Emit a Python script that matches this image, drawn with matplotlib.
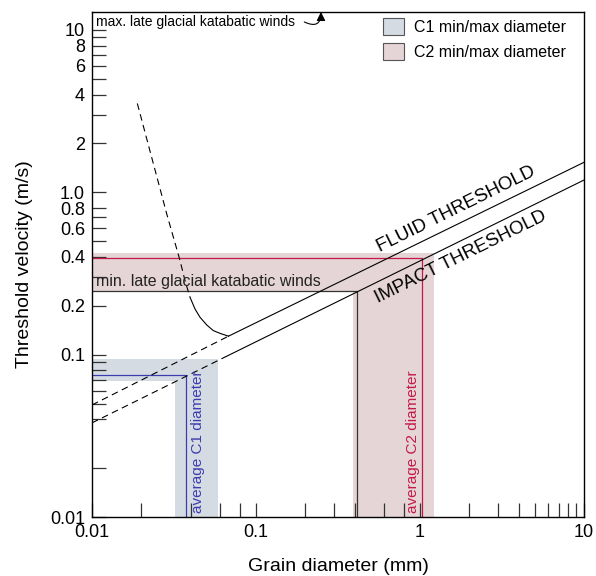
import matplotlib
matplotlib.use("Agg")
import matplotlib.pyplot as plt
from matplotlib.patches import Patch
from matplotlib.ticker import FixedLocator, FixedFormatter, NullFormatter

plt.rcParams["font.family"] = ["Liberation Sans", "DejaVu Sans"]

# threshold lines (grain diameter mm, velocity m/s); first segment dashed
fluid_x = [0.01, 0.068, 10]
fluid_y = [0.049, 0.130, 1.53]
impact_x = [0.01, 0.066, 10]
impact_y = [0.038, 0.0976, 1.19]

# upturn of the fluid threshold for fine grains
curve_x = [0.0189, 0.02114, 0.02366, 0.02598, 0.02853, 0.03133, 0.0344,
           0.03689, 0.03958, 0.04246, 0.04555, 0.05003, 0.05494, 0.06091,
           0.068]
curve_y = [3.526, 2.302, 1.503, 1.054, 0.738, 0.530, 0.3804,
           0.2862, 0.2259, 0.1913, 0.1700, 0.1525, 0.1406, 0.1348,
           0.130]
curve_split = 8

# C1 / C2 diameter ranges and velocity bands
c1_d = (0.0321, 0.0589)
c1_u = (0.0691, 0.0941)
c1_avg_d = 0.0374
c1_avg_u = 0.0749
c2_d = (0.388, 1.217)
c2_u = (0.2425, 0.422)
c2_avg_d = 1.035
c2_avg_u = 0.394

katabatic_min_u = 0.246
katabatic_min_d = 0.411

xtick_major = [0.01, 0.1, 1, 10]
xtick_minor = [0.02, 0.04, 0.06, 0.08, 0.2, 0.3, 0.4, 0.6, 0.8,
               2, 3, 4, 5, 6, 7, 8, 9]
ytick_major = [0.01, 0.1, 0.2, 0.4, 0.6, 0.8, 1.0, 2, 4, 6, 8, 10]
ytick_labels = ["0.01", "0.1", "0.2", "0.4", "0.6", "0.8", "1.0",
                "2", "4", "6", "8", "10"]
ytick_minor = [0.02, 0.04, 0.05, 0.06, 0.07, 0.08, 0.09,
               0.3, 0.5, 0.7, 3, 5, 7, 9]

C1_FILL = "#d5dbe3"
C2_FILL = "#e5d5d6"
BLUE = "#3c3cb0"
CRIMSON = "#c41848"
DARK = "#333333"

fig = plt.figure(figsize=(5.96, 5.76), dpi=100)
ax = fig.add_axes([92 / 596, 1 - 517 / 576, 492 / 596, 505 / 576])
ax.set_xscale("log")
ax.set_yscale("log")
ax.set_xlim(0.01, 10)
ax.set_ylim(0.01, 12.9)

# shaded min/max bands
ax.fill_between(c1_d, 0.01, c1_u[1], color=C1_FILL, lw=0, zorder=1)
ax.fill_between([0.01, c1_d[1]], c1_u[0], c1_u[1], color=C1_FILL, lw=0, zorder=1)
ax.fill_between(c2_d, 0.01, c2_u[1], color=C2_FILL, lw=0, zorder=1)
ax.fill_between([0.01, c2_d[1]], c2_u[0], c2_u[1], color=C2_FILL, lw=0, zorder=1)

# average diameter markers
ax.plot([0.01, c1_avg_d, c1_avg_d], [c1_avg_u, c1_avg_u, 0.01],
        color=BLUE, lw=0.9, zorder=3)
ax.plot([0.01, c2_avg_d, c2_avg_d], [c2_avg_u, c2_avg_u, 0.01],
        color=CRIMSON, lw=0.9, zorder=3)
ax.plot([0.01, katabatic_min_d, katabatic_min_d],
        [katabatic_min_u, katabatic_min_u, 0.01], color=DARK, lw=0.9, zorder=3)

dash = (0, (6, 4))
ax.plot(fluid_x[:2], fluid_y[:2], color="black", lw=0.8, ls=dash, zorder=4)
ax.plot(fluid_x[1:], fluid_y[1:], color="black", lw=0.8, zorder=4)
ax.plot(impact_x[:2], impact_y[:2], color="black", lw=0.8, ls=dash, zorder=4)
ax.plot(impact_x[1:], impact_y[1:], color="black", lw=0.8, zorder=4)
ax.plot(curve_x[:curve_split + 1], curve_y[:curve_split + 1],
        color="black", lw=0.8, ls=dash, zorder=4)
ax.plot(curve_x[curve_split:], curve_y[curve_split:], color="black", lw=0.8, zorder=4)

ax.text(1.66, 0.785, "FLUID THRESHOLD", rotation=26.3, fontsize=13.5,
        ha="center", va="center", rotation_mode="anchor", zorder=5)
ax.text(1.78, 0.397, "IMPACT THRESHOLD", rotation=26.3, fontsize=13.5,
        ha="center", va="center", rotation_mode="anchor", zorder=5)

ax.text(0.0106, 0.252, "min. late glacial katabatic winds", fontsize=11.5,
        ha="left", va="bottom", color="#222222", zorder=5)
ax.text(0.0106, 11.2, "max. late glacial katabatic winds", fontsize=10,
        ha="left", va="center", zorder=5)
# hooked arrow: maximum lies above the plotted range
ax.annotate("", xy=(0.249, 12.9), xytext=(0.197, 11.2),
            arrowprops=dict(arrowstyle="-|>", color="black", lw=0.8,
                            mutation_scale=13, shrinkA=0, shrinkB=0,
                            connectionstyle="angle3,angleA=-25,angleB=90"),
            annotation_clip=False, zorder=5)

ax.text(0.0443, 0.0106, "average C1 diameter", rotation=90, fontsize=11,
        ha="center", va="bottom", color=BLUE, zorder=5)
ax.text(0.906, 0.0106, "average C2 diameter", rotation=90, fontsize=11,
        ha="center", va="bottom", color=CRIMSON, zorder=5)

handles = [Patch(facecolor=C1_FILL, edgecolor="#555555", lw=0.8),
           Patch(facecolor=C2_FILL, edgecolor="#555555", lw=0.8)]
ax.legend(handles, ["C1 min/max diameter", "C2 min/max diameter"],
          loc="upper left", bbox_to_anchor=(0.5915, 0.988), frameon=False,
          fontsize=11.5, borderpad=0, borderaxespad=0, handlelength=1.31,
          handleheight=1.3, handletextpad=0.62, labelspacing=0.45)

ax.xaxis.set_major_locator(FixedLocator(xtick_major))
ax.xaxis.set_major_formatter(FixedFormatter(["0.01", "0.1", "1", "10"]))
ax.xaxis.set_minor_locator(FixedLocator(xtick_minor))
ax.xaxis.set_minor_formatter(NullFormatter())
ax.yaxis.set_major_locator(FixedLocator(ytick_major))
ax.yaxis.set_major_formatter(FixedFormatter(ytick_labels))
ax.yaxis.set_minor_locator(FixedLocator(ytick_minor))
ax.yaxis.set_minor_formatter(NullFormatter())

for which in ("major", "minor"):
    ax.tick_params(axis="both", which=which, direction="in", length=10,
                   width=0.9, color="#333333")
ax.tick_params(axis="both", which="major", labelsize=13, pad=5)
for s in ax.spines.values():
    s.set_linewidth(1.0)
    s.set_zorder(6)

ax.set_xlabel("Grain diameter (mm)", fontsize=14, labelpad=12)
ax.set_ylabel("Threshold velocity (m/s)", fontsize=14, labelpad=12)

fig.savefig("out.png", dpi=100)
